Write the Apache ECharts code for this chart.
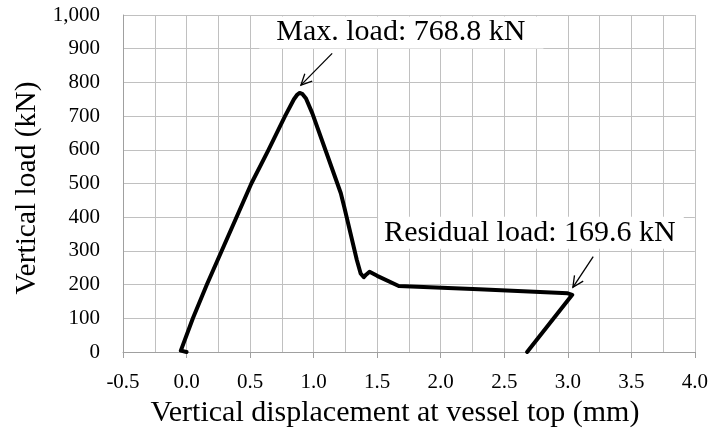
<!DOCTYPE html>
<html><head><meta charset="utf-8">
<script src="https://cdn.jsdelivr.net/npm/echarts@6/dist/echarts.min.js"></script>
<style>html,body{margin:0;padding:0;background:#fff}#c{width:711px;height:434px}</style>
</head><body><div id="c"></div>
<script>
// Data
const displacement = [0.0, -0.045, 0.05, 0.16, 0.51, 0.645, 0.775, 0.845, 0.872, 0.89, 0.91, 0.94, 0.99, 1.1, 1.214, 1.24, 1.34, 1.37, 1.395, 1.415, 1.44, 1.5, 1.67, 2.3, 3.0, 3.035, 2.68];
const load =         [0,   4,      100,  200,  500,  600,   700,   750,   764,   768.8, 766, 752,  708,  592, 471,   432,  273,  233,  222,   230,   238,  226,  196,  186, 174, 169.6, 0];
const xTickValues = [-0.5, 0.0, 0.5, 1.0, 1.5, 2.0, 2.5, 3.0, 3.5, 4.0];
const yTickValues = [0, 100, 200, 300, 400, 500, 600, 700, 800, 900, 1000];
const xTitle = 'Vertical displacement at vessel top (mm)';
const yTitle = 'Vertical load (kN)';
const annMax = { text: 'Max. load: 768.8 kN', at: [1.69, 948], arrowFrom: [1.146, 886], arrowTo: [0.90, 792] };
const annRes = { text: 'Residual load: 169.6 kN', at: [2.71, 354], arrowFrom: [3.2, 283], arrowTo: [3.04, 192] };

const points = displacement.map((d, i) => [d, load[i]]);
const FONT = '"Liberation Serif", "Times New Roman", serif';
const chart = echarts.init(document.getElementById('c'), null, { renderer: 'canvas' });
const gridColor = '#c0c0c0';
const axisColor = '#a0a0a0';
chart.setOption({
  animation: false,
  backgroundColor: '#fff',
  grid: { left: 123, right: 14, top: 15, bottom: 82, containLabel: false },
  xAxis: {
    type: 'value', min: xTickValues[0], max: xTickValues[xTickValues.length - 1], interval: 0.5,
    axisLine: { show: true, onZero: false, lineStyle: { color: axisColor, width: 1 } },
    axisTick: { show: true, inside: false, length: 6, lineStyle: { color: axisColor } },
    axisLabel: { color: '#000', fontFamily: FONT, fontSize: 21, margin: 20, formatter: v => v.toFixed(1) },
    splitLine: { show: true, lineStyle: { color: gridColor, width: 1 } },
    minorTick: { show: false, splitNumber: 2 },
    minorSplitLine: { show: true, lineStyle: { color: gridColor, width: 1 } },
    name: xTitle, nameLocation: 'middle', nameGap: 45,
    nameTextStyle: { color: '#000', fontFamily: FONT, fontSize: 30, padding: [0, 28, 0, 0] }
  },
  yAxis: {
    type: 'value', min: yTickValues[0], max: yTickValues[yTickValues.length - 1], interval: 100,
    axisLine: { show: true, onZero: false, lineStyle: { color: axisColor, width: 1 } },
    axisTick: { show: false },
    axisLabel: { color: '#000', fontFamily: FONT, fontSize: 21, margin: 23, formatter: v => v.toLocaleString('en-US') },
    splitLine: { show: true, lineStyle: { color: gridColor, width: 1 } },
    name: yTitle, nameLocation: 'middle', nameGap: 77,
    nameTextStyle: { color: '#000', fontFamily: FONT, fontSize: 29.5, padding: [0, 9, 0, 0] }
  },
  series: [{
    type: 'line', data: points, showSymbol: false, symbol: 'none', smooth: false,
    lineStyle: { color: '#000', width: 4, cap: 'round', join: 'round' }, z: 3
  }]
});

function arrowGraphics(a) {
  const p1 = chart.convertToPixel({ gridIndex: 0 }, a.arrowFrom);
  const p2 = chart.convertToPixel({ gridIndex: 0 }, a.arrowTo);
  const ang = Math.atan2(p1[1] - p2[1], p1[0] - p2[0]);
  const L = 12, spread = 0.45;
  const h1 = [p2[0] + L * Math.cos(ang + spread), p2[1] + L * Math.sin(ang + spread)];
  const h2 = [p2[0] + L * Math.cos(ang - spread), p2[1] + L * Math.sin(ang - spread)];
  const st = { stroke: '#000', lineWidth: 1.3, fill: null };
  return [
    { type: 'polyline', shape: { points: [p1, p2] }, style: st, z: 10 },
    { type: 'polyline', shape: { points: [h1, p2, h2] }, style: st, z: 10 }
  ];
}
function textGraphic(a, pad) {
  const p = chart.convertToPixel({ gridIndex: 0 }, a.at);
  return {
    type: 'text', x: p[0], y: p[1], z: 9,
    style: { text: a.text, font: '30px ' + FONT, fill: '#000', align: 'center', verticalAlign: 'middle',
      backgroundColor: '#fff', padding: pad, lineHeight: 30 }
  };
}
chart.setOption({
  graphic: [
    textGraphic(annMax, [1, 18, 1, 17]),
    textGraphic(annRes, [1, 8, 1, 6]),
    ...arrowGraphics(annMax),
    ...arrowGraphics(annRes)
  ]
});
</script></body></html>
